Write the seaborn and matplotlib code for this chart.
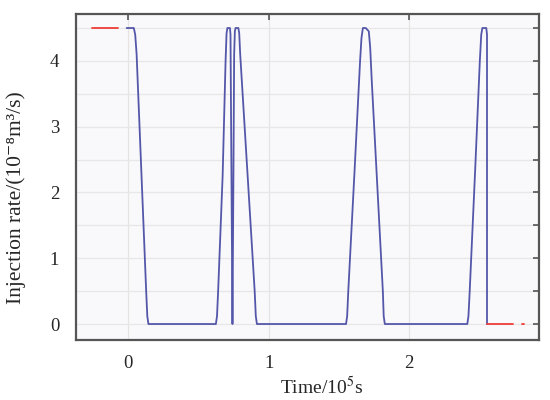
import numpy as np
import pandas as pd
import seaborn as sns
import matplotlib
matplotlib.use("Agg")
import matplotlib.pyplot as plt
from matplotlib.ticker import MultipleLocator

# blue curve (time in 1e5 s, injection rate in 1e-8 m3/s)
time_blue = [-0.011, 0.040, 0.050, 0.060, 0.095, 0.128, 0.136, 0.144,
             0.624, 0.632, 0.640, 0.672, 0.693, 0.700, 0.706, 0.724, 0.728, 0.735, 0.742,
             0.748, 0.754, 0.759, 0.764, 0.784, 0.790, 0.797, 0.852, 0.900, 0.908, 0.916,
             1.550, 1.558, 1.566, 1.610, 1.650, 1.660, 1.670, 1.690, 1.712, 1.722, 1.733, 1.812, 1.818, 1.826,
             2.413, 2.421, 2.430, 2.470, 2.502, 2.512, 2.520, 2.548, 2.553, 2.553]
rate_blue = [4.50, 4.50, 4.40, 4.10, 2.25, 0.50, 0.12, 0.00,
             0.00, 0.12, 0.50, 2.25, 4.00, 4.42, 4.50, 4.50, 4.40, 2.20, 0.00,
             2.00, 4.10, 4.45, 4.50, 4.50, 4.42, 4.10, 2.18, 0.50, 0.12, 0.00,
             0.00, 0.12, 0.50, 2.30, 4.00, 4.35, 4.50, 4.50, 4.45, 4.20, 3.70, 0.50, 0.12, 0.00,
             0.00, 0.12, 0.50, 2.40, 4.00, 4.40, 4.50, 4.50, 4.40, 0.00]

# red segments
red_segments = [
    ([-0.258, -0.071], [4.5, 4.5]),
    ([2.553, 2.740], [0.0, 0.0]),
    ([2.800, 2.814], [0.0, 0.0]),
]

x_ticks = [0, 1, 2]
y_ticks = [0, 1, 2, 3, 4]

sns.set_style("white")
plt.rcParams['font.family'] = ['Liberation Serif', 'DejaVu Serif']
plt.rcParams['mathtext.fontset'] = 'stix'

fig = plt.figure(figsize=(5.5, 4), dpi=100)
ax = fig.add_axes([0.138, 0.15, 0.842, 0.815])
ax.set_facecolor('#f9f8fb')

blue = pd.DataFrame({'t': time_blue, 'q': rate_blue})
sns.lineplot(data=blue, x='t', y='q', sort=False, estimator=None,
             color='#5457a9', linewidth=1.3, ax=ax)
for xs, ys in red_segments:
    sns.lineplot(x=xs, y=ys, sort=False, estimator=None,
                 color='#ee3b36', linewidth=1.3, ax=ax)

ax.set_xlim(-0.372, 2.923)
ax.set_ylim(-0.243, 4.713)
ax.set_xticks(x_ticks)
ax.set_yticks(y_ticks)
ax.yaxis.set_minor_locator(MultipleLocator(0.5))

ax.grid(True, which='major', axis='x', color='#e6e3e3', linewidth=0.9)
ax.grid(True, which='both', axis='y', color='#e8e6e6', linewidth=0.9)
ax.set_axisbelow(True)

for s in ax.spines.values():
    s.set_color('#555555')
    s.set_linewidth(1.6)

ax.tick_params(axis='both', which='both', direction='in', color='#555555',
               top=True, right=True, width=1.2, labelsize=13.5)
ax.tick_params(axis='both', which='major', length=4)
ax.tick_params(axis='y', which='minor', length=4)
ax.tick_params(axis='y', pad=12)
ax.tick_params(axis='x', pad=11)

ax.set_xlabel(r'Time/10$^5$s', fontsize=14)
ax.xaxis.set_label_coords(0.531, -0.110)
ax.set_ylabel('Injection rate/(10⁻⁸m³/s)', fontsize=15.5)
ax.yaxis.set_label_coords(-0.108, 0.436)

fig.savefig('out.png', dpi=100)
